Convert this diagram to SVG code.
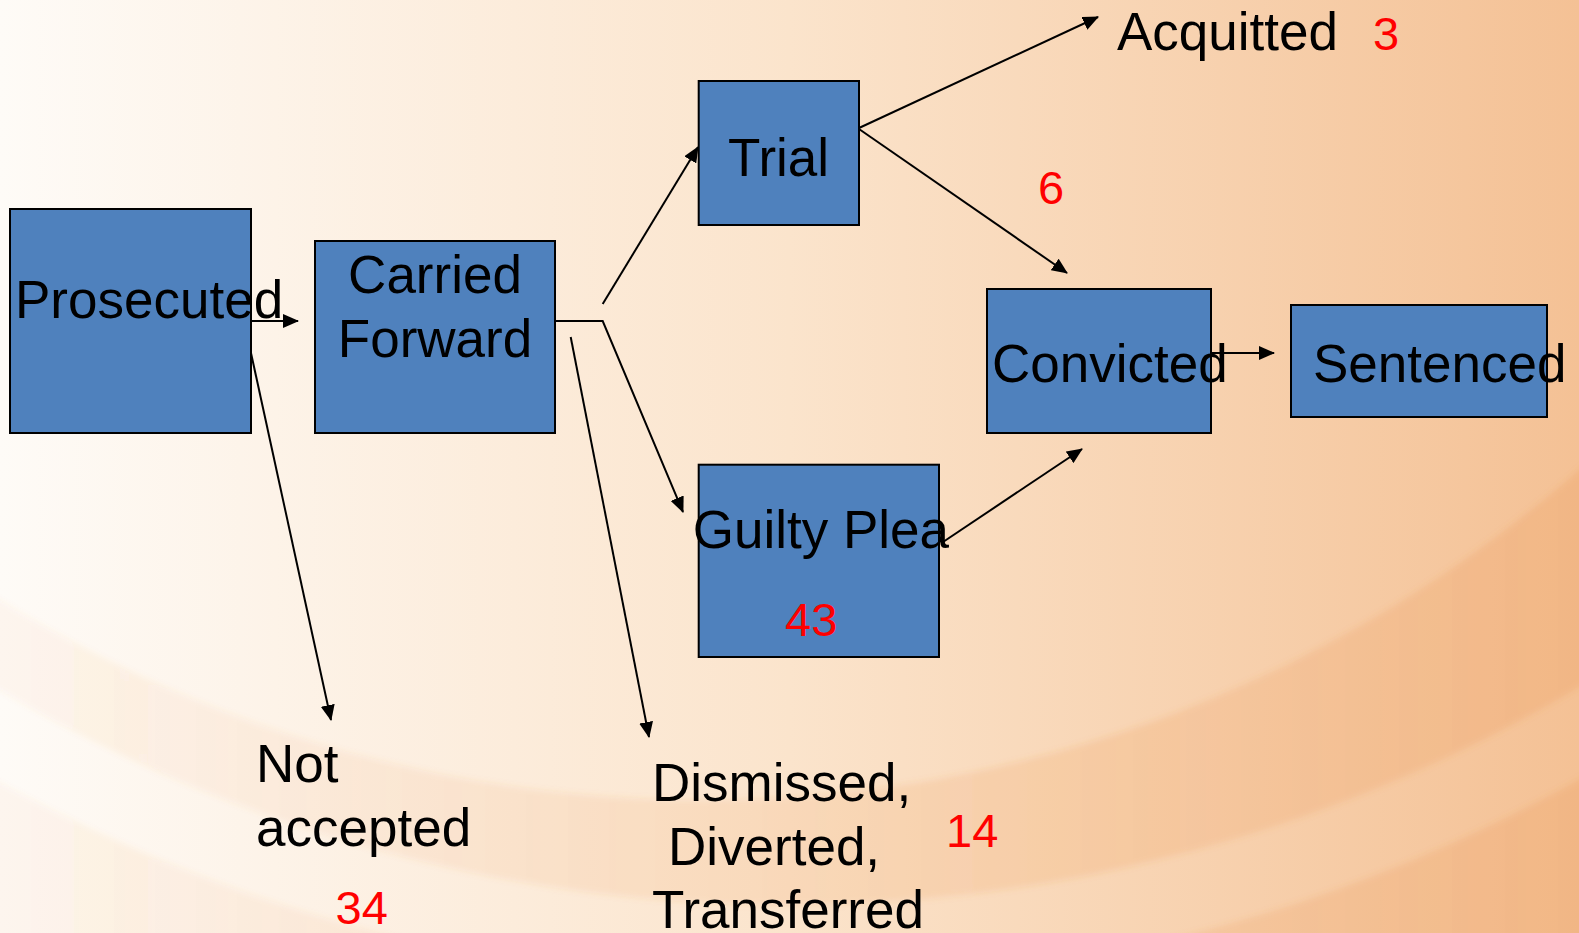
<svg xmlns="http://www.w3.org/2000/svg" width="1579" height="933" viewBox="0 0 1579 933">
  <defs>
    <linearGradient id="bg" x1="0" y1="0" x2="1" y2="0">
      <stop offset="0" stop-color="#fefbf7"/>
      <stop offset="0.5" stop-color="#fbe4cc"/>
      <stop offset="1" stop-color="#f4c195"/>
    </linearGradient>
    <linearGradient id="bandfill" gradientUnits="userSpaceOnUse" x1="0" y1="0" x2="1579" y2="0">
      <stop offset="0" stop-color="#e8873a" stop-opacity="0.05"/>
      <stop offset="0.4" stop-color="#e8873a" stop-opacity="0.11"/>
      <stop offset="1" stop-color="#e8873a" stop-opacity="0.18"/>
    </linearGradient>
    <filter id="soft" x="-5%" y="-5%" width="110%" height="110%">
      <feGaussianBlur stdDeviation="3"/>
    </filter>
    <marker id="arr" viewBox="0 0 16 14" refX="15" refY="7" markerWidth="16" markerHeight="14" markerUnits="userSpaceOnUse" orient="auto">
      <path d="M0,0 L16,7 L0,14 z" fill="#000"/>
    </marker>
    <style>
      .box { fill: #4f81bd; stroke: #000; stroke-width: 2; }
      .lbl { font-family: "Liberation Sans", Arial, sans-serif; font-size: 53px; fill: #000; }
      .num { font-family: "Liberation Sans", Arial, sans-serif; font-size: 47px; fill: #ff0000; }
      .con { fill: none; stroke: #000; stroke-width: 2; }
      .band { fill: url(#bandfill); fill-rule: evenodd; }
    </style>
  </defs>

  <g id="background">
    <rect x="0" y="0" width="1579" height="933" fill="url(#bg)"/>
    <g filter="url(#soft)">
      <path class="band" d="M787,-645 m-1550,0 a1550,1550 0 1,0 3100,0 a1550,1550 0 1,0 -3100,0 z M701.7,-531 m-1331,0 a1331,1331 0 1,0 2662,0 a1331,1331 0 1,0 -2662,0 z"/>
      <path class="band" d="M-20,-20 H1600 V960 H-20 z M787,-645 m-1630,0 a1630,1630 0 1,0 3260,0 a1630,1630 0 1,0 -3260,0 z"/>
    </g>
  </g>

  <g id="connectors">
    <line class="con" x1="251" y1="321" x2="298" y2="321" marker-end="url(#arr)"/>
    <line class="con" x1="251" y1="353" x2="331" y2="720" marker-end="url(#arr)"/>
    <polyline class="con" points="555,321 602.7,321 683,512" marker-end="url(#arr)"/>
    <line class="con" x1="602.7" y1="304" x2="698" y2="147" marker-end="url(#arr)"/>
    <line class="con" x1="570.7" y1="337" x2="649" y2="737" marker-end="url(#arr)"/>
    <line class="con" x1="859" y1="128" x2="1098" y2="17" marker-end="url(#arr)"/>
    <line class="con" x1="859" y1="129" x2="1067" y2="273" marker-end="url(#arr)"/>
    <line class="con" x1="943" y1="542" x2="1082" y2="449" marker-end="url(#arr)"/>
    <line class="con" x1="1211" y1="353" x2="1274" y2="353" marker-end="url(#arr)"/>
  </g>

  <g id="node-prosecuted">
    <rect class="box" x="10" y="209" width="241" height="224"/>
    <text class="lbl" x="15" y="318">Prosecuted</text>
  </g>
  <g id="node-carried-forward">
    <rect class="box" x="315" y="241" width="240" height="192"/>
    <text class="lbl" x="435" y="292.7" text-anchor="middle">Carried</text>
    <text class="lbl" x="435" y="356.7" text-anchor="middle">Forward</text>
  </g>
  <g id="node-trial">
    <rect class="box" x="698.7" y="81" width="160.3" height="144"/>
    <text class="lbl" x="728" y="176">Trial</text>
  </g>
  <g id="node-guilty-plea">
    <rect class="box" x="698.7" y="464.7" width="240.3" height="192.3"/>
    <text class="lbl" x="692.7" y="548.3">Guilty Plea</text>
    <text class="num" x="785" y="636">43</text>
  </g>
  <g id="node-convicted">
    <rect class="box" x="987" y="289" width="224" height="144"/>
    <text class="lbl" x="992" y="382">Convicted</text>
  </g>
  <g id="node-sentenced">
    <rect class="box" x="1291" y="305" width="256" height="112"/>
    <text class="lbl" x="1313" y="382">Sentenced</text>
  </g>
  <g id="node-acquitted">
    <text class="lbl" x="1117" y="50">Acquitted</text>
    <text class="num" x="1373" y="50">3</text>
  </g>
  <g id="label-6">
    <text class="num" x="1038" y="204">6</text>
  </g>
  <g id="node-not-accepted">
    <text class="lbl" x="256" y="782">Not</text>
    <text class="lbl" x="256" y="846">accepted</text>
    <text class="num" x="335.5" y="924">34</text>
  </g>
  <g id="node-dismissed">
    <text class="lbl" x="652" y="800.7">Dismissed,</text>
    <text class="lbl" x="668" y="865">Diverted,</text>
    <text class="lbl" x="652" y="928">Transferred</text>
    <text class="num" x="946" y="847">14</text>
  </g>
</svg>
